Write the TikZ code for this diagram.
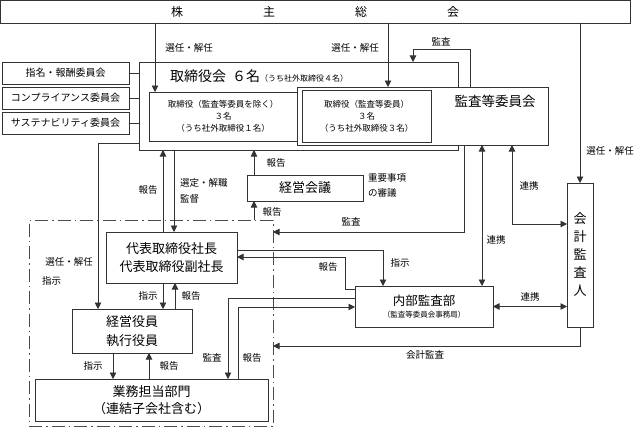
\documentclass[tikz,border=0pt]{standalone}
\usepackage{fontspec}
\setmainfont{Noto Sans CJK JP}
\usetikzlibrary{arrows.meta}

\newcommand{\jpsize}[2]{\fontsize{#1}{#2}\selectfont}

\begin{document}
\begin{tikzpicture}[x=1pt, y=-1pt,
    box/.style={draw=black!80, line width=0.7pt, fill=white, inner sep=0pt, outer sep=0pt, align=center},
    conn/.style={draw=black!80, line width=0.7pt, -{Triangle[length=6.5pt,width=6.5pt]}},
    twoway/.style={draw=black!80, line width=0.7pt, {Triangle[length=6.5pt,width=6.5pt]}-{Triangle[length=6.5pt,width=6.5pt]}},
    plain/.style={draw=black!80, line width=0.7pt},
    lbl/.style={font=\jpsize{9.5}{11}, inner sep=1pt},
    dashdot/.style={draw=black!70, line width=0.7pt, dash pattern=on 13pt off 4pt on 1.5pt off 4pt}]

    \useasboundingbox (0,0) rectangle (639,428);

    % shareholders
    \node[box, minimum width=630, minimum height=23, font=\jpsize{12}{14}] (gsm) at (315,11.5)
        {株\hspace{80pt}主\hspace{80pt}総\hspace{80pt}会};

    % board of directors
    \node[box, minimum width=319, minimum height=88] (board) at (298.5,106) {};
    \node[anchor=west, inner sep=0pt] (boardtitle) at (170,76)
        {{\jpsize{14}{16}取締役会\hspace{6pt}６名}{\jpsize{8}{10}（うち社外取締役４名）}};
    \node[box, minimum width=148, minimum height=49, font=\jpsize{8.5}{12}] (dirA) at (223,116.5)
        {取締役（監査等委員を除く）\\３名\\（うち社外取締役１名）};

    % audit and supervisory committee
    \node[box, minimum width=251, minimum height=58] (acbox) at (422.5,116) {};
    \node[box, minimum width=129, minimum height=52, font=\jpsize{8.5}{12}] (acdir) at (366.5,116)
        {取締役（監査等委員）\\３名\\（うち社外取締役３名）};
    \node[font=\jpsize{13.5}{16}] (actitle) at (495,101) {監査等委員会};

    % committees
    \node[box, minimum width=127, minimum height=22, font=\jpsize{10}{12}] (nom) at (65.5,73) {指名・報酬委員会};
    \node[box, minimum width=127, minimum height=22, font=\jpsize{10}{12}] (comp) at (65.5,98) {コンプライアンス委員会};
    \node[box, minimum width=127, minimum height=22, font=\jpsize{10}{12}] (sust) at (65.5,123) {サステナビリティ委員会};
    \draw[plain] (nom.east) -- (nom.east -| board.west);
    \draw[plain] (comp.east) -- (comp.east -| board.west);
    \draw[plain] (sust.east) -- (sust.east -| board.west);

    % execution area
    \node[dashdot, minimum width=244, minimum height=206, inner sep=0pt, outer sep=0pt] (execarea) at (151,323) {};
    \node[box, minimum width=131, minimum height=51, font=\jpsize{13}{18}] (rep) at (171.5,257.5)
        {代表取締役社長\\代表取締役副社長};
    \node[box, minimum width=116, minimum height=26, font=\jpsize{13}{16}] (mgmt) at (305,188) {経営会議};
    \node[box, minimum width=120, minimum height=44, font=\jpsize{13}{19}] (officers) at (132,331)
        {経営役員\\執行役員};
    \node[box, minimum width=233, minimum height=42, font=\jpsize{13}{17}] (dept) at (151.5,400)
        {業務担当部門\\（連結子会社含む）};

    % internal audit and accounting auditor
    \node[box, minimum width=138, minimum height=41] (ia) at (424,306.5)
        {{\jpsize{12.5}{16}内部監査部}\\{\jpsize{7.5}{10}（監査等委員会事務局）}};
    \node[box, minimum width=26, minimum height=144, font=\jpsize{13}{18}] (auditor) at (580,255)
        {会\\計\\監\\査\\人};

    % from the shareholders
    \draw[conn] (155,0 |- gsm.south) -- (155,0 |- dirA.north);
    \draw[conn] (388,0 |- gsm.south) -- (388,0 |- acbox.north);
    \draw[conn] (auditor.north |- gsm.south) -- (auditor.north);
    \node[lbl] (elect1) at (189,48) {選任・解任};
    \node[lbl] (elect2) at (355,48) {選任・解任};
    \node[lbl] (elect3) at (610,151) {選任・解任};

    % audit of the board
    \draw[conn] (470,0 |- acbox.north) -- (470,49) -| (413,0 |- board.north);
    \node[lbl] (audit1) at (441,42) {監査};

    % board and executives
    \draw[conn] (board.west |- 0,143) -| (98,0 |- officers.north);
    \node[lbl] (elect4) at (69,262) {選任・解任};
    \node[lbl, anchor=west] (order1) at (41,281) {指示};
    \draw[conn] (163,0 |- rep.north) -- (163,0 |- board.south);
    \draw[conn] (174,0 |- board.south) -- (174,0 |- rep.north);
    \node[lbl] (report1) at (148,190) {報告};
    \node[lbl, anchor=west] (appoint) at (179,183) {選定・解職};
    \node[lbl, anchor=west] (supervise) at (179,199) {監督};
    \draw[conn] (254,0 |- mgmt.north) -- (254,0 |- board.south);
    \draw[conn] (254,0 |- execarea.north) -- (254,0 |- mgmt.south);
    \node[lbl] (report2) at (276,163) {報告};
    \node[lbl] (report3) at (272,212) {報告};
    \node[lbl, anchor=west, align=left, font=\jpsize{9.5}{15}] (agenda) at (367,185) {重要事項\\の審議};

    % audit committee links
    \draw[conn] (464,0 |- acbox.south) |- (execarea.east |- 0,232);
    \node[lbl] (audit2) at (351,222) {監査};
    \draw[twoway] (482,0 |- acbox.south) -- (482,0 |- ia.north);
    \node[lbl] (link1) at (496,240) {連携};
    \draw[twoway] (512,0 |- acbox.south) |- (auditor.west |- 0,224);
    \node[lbl] (link2) at (529,186) {連携};
    \draw[twoway] (ia.east) -- (auditor.west |- ia.east);
    \node[lbl] (link3) at (530,297) {連携};
    \draw[conn] (auditor.south) |- (execarea.east |- 0,346);
    \node[lbl] (acctaudit) at (425,355) {会計監査};

    % president and internal audit
    \draw[conn] (rep.east |- 0,250) -| (383,0 |- ia.north);
    \node[lbl] (order2) at (400,263) {指示};
    \draw[conn] (ia.west |- 0,289) -| (345,257) -- (rep.east |- 0,257);
    \node[lbl] (report4) at (328,267) {報告};
    \draw[conn] (ia.west |- 0,298) -| (228,0 |- dept.north);
    \draw[conn] (238,0 |- dept.north) |- (ia.west |- 0,307);
    \node[lbl] (audit3) at (212,358) {監査};
    \node[lbl] (report5) at (252,358) {報告};

    % chain of command
    \draw[conn] (163,0 |- rep.south) -- (163,0 |- officers.north);
    \draw[conn] (175,0 |- officers.north) -- (175,0 |- rep.south);
    \node[lbl] (order3) at (148,296) {指示};
    \node[lbl] (report6) at (191,296) {報告};
    \draw[conn] (113,0 |- officers.south) -- (113,0 |- dept.north);
    \draw[conn] (149,0 |- dept.north) -- (149,0 |- officers.south);
    \node[lbl] (order4) at (93,366) {指示};
    \node[lbl] (report7) at (169,366) {報告};

\end{tikzpicture}
\end{document}
